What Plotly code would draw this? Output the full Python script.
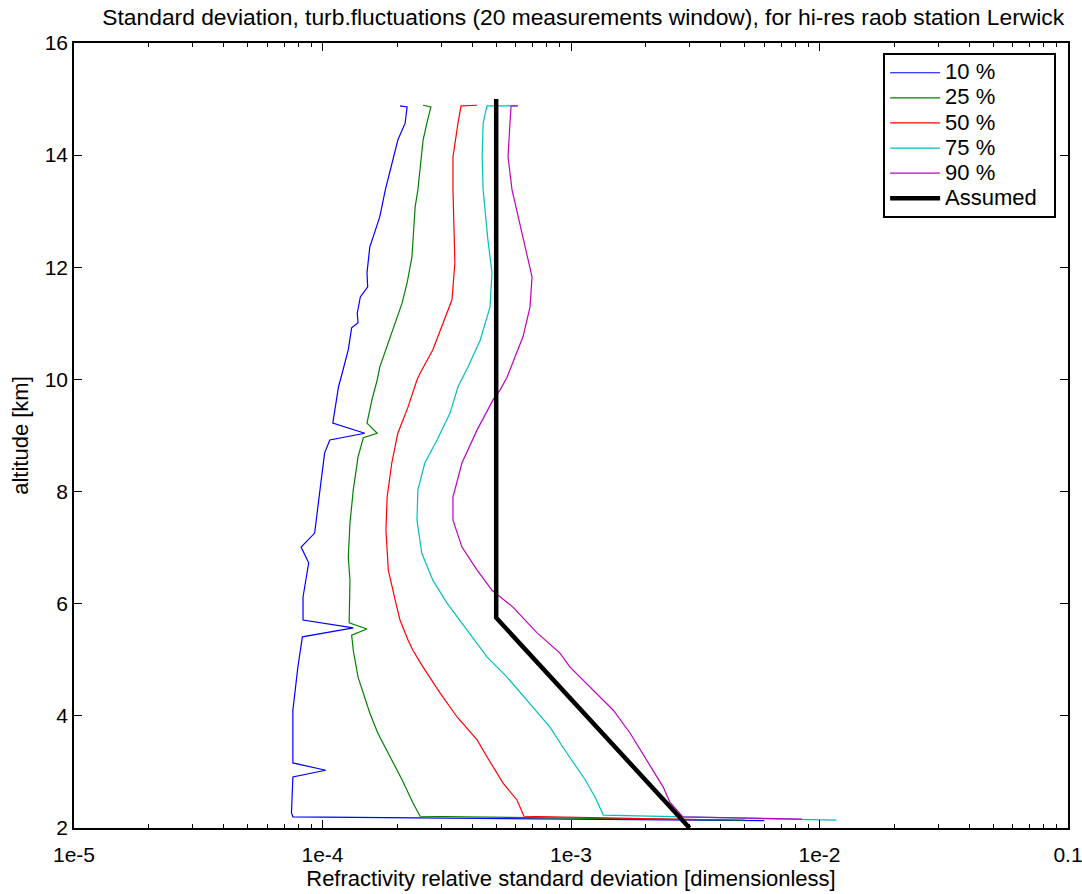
import plotly.graph_objects as go

# ---- data (x: relative std dev, y: altitude km) ----
p10_x = [2.05e-4, 2.19e-4, 2.15e-4, 2.01e-4, 1.79e-4, 1.70e-4, 1.55e-4, 1.51e-4, 1.52e-4, 1.42e-4,
         1.38e-4, 1.39e-4, 1.31e-4, 1.27e-4, 1.20e-4, 1.18e-4, 1.16e-4, 1.10e-4, 1.48e-4, 1.07e-4,
         1.02e-4, 9.8e-5, 9.3e-5, 8.2e-5, 8.8e-5, 8.35e-5, 8.35e-5, 1.33e-4, 8.3e-5, 7.96e-5,
         7.6e-5, 7.6e-5, 1.03e-4, 7.6e-5, 7.5e-5, 7.6e-5, 6.0e-3]
p10_y = [14.88, 14.86, 14.57, 14.27, 13.38, 12.90, 12.36, 11.90, 11.65, 11.47,
         11.18, 11.01, 10.92, 10.53, 10.11, 9.99, 9.87, 9.22, 9.04, 8.92,
         8.69, 8.08, 7.26, 7.01, 6.73, 6.12, 5.71, 5.57, 5.41, 4.87,
         4.10, 3.16, 3.03, 2.91, 2.27, 2.20, 2.13]

p25_x = [2.54e-4, 2.73e-4, 2.63e-4, 2.54e-4, 2.42e-4, 2.36e-4, 2.29e-4, 2.19e-4, 2.09e-4, 1.96e-4,
         1.84e-4, 1.70e-4, 1.66e-4, 1.58e-4, 1.51e-4, 1.66e-4, 1.46e-4, 1.39e-4, 1.33e-4, 1.29e-4,
         1.27e-4, 1.29e-4, 1.28e-4, 1.51e-4, 1.31e-4, 1.33e-4, 1.39e-4, 1.55e-4, 1.67e-4, 1.87e-4,
         2.09e-4, 2.31e-4, 2.47e-4, 5.0e-3]
p25_y = [14.89, 14.86, 14.57, 14.27, 13.38, 13.08, 12.18, 11.72, 11.36, 11.01,
         10.65, 10.22, 9.99, 9.63, 9.22, 9.04, 8.96, 8.62, 8.03, 7.44,
         6.83, 6.42, 5.66, 5.55, 5.44, 5.17, 4.69, 4.05, 3.69, 3.27,
         2.86, 2.45, 2.21, 2.14]

p50_x = [4.19e-4, 3.61e-4, 3.51e-4, 3.35e-4, 3.35e-4, 3.38e-4, 3.41e-4, 3.32e-4, 3.05e-4, 2.78e-4,
         2.47e-4, 2.40e-4, 2.21e-4, 2.01e-4, 1.90e-4, 1.82e-4, 1.80e-4, 1.84e-4, 1.96e-4, 2.05e-4,
         2.21e-4, 2.31e-4, 2.54e-4, 2.97e-4, 3.48e-4, 4.19e-4, 4.59e-4, 5.33e-4, 6.06e-4, 6.47e-4,
         3.2e-3]
p50_y = [14.89, 14.88, 14.57, 13.97, 13.38, 12.49, 12.08, 11.42, 11.01, 10.53,
         10.11, 9.99, 9.51, 9.04, 8.51, 7.90, 7.31, 6.60, 6.07, 5.71,
         5.35, 5.17, 4.87, 4.41, 3.98, 3.57, 3.27, 2.80, 2.50, 2.21,
         2.15]

p75_x = [6.06e-4, 4.59e-4, 4.43e-4, 4.39e-4, 4.43e-4, 4.63e-4, 4.81e-4, 4.72e-4, 4.31e-4, 3.85e-4,
         3.51e-4, 3.26e-4, 2.89e-4, 2.58e-4, 2.42e-4, 2.40e-4, 2.51e-4, 2.78e-4, 3.17e-4, 4.0e-4,
         4.59e-4, 5.53e-4, 6.65e-4, 8.23e-4, 9.28e-4, 1.14e-3, 1.25e-3, 1.35e-3, 1.17e-2]
p75_y = [14.88, 14.88, 14.57, 13.97, 13.38, 12.49, 11.90, 11.29, 10.70, 10.22,
         9.87, 9.40, 8.92, 8.51, 8.03, 7.49, 6.90, 6.42, 6.01, 5.41,
         5.05, 4.69, 4.28, 3.80, 3.44, 2.86, 2.55, 2.23, 2.14]

p90_x = [6.12e-4, 5.74e-4, 5.68e-4, 5.58e-4, 5.79e-4, 6.23e-4, 6.71e-4, 6.97e-4, 6.84e-4, 6.41e-4,
         5.95e-4, 5.53e-4, 5.18e-4, 4.85e-4, 4.19e-4, 3.64e-4, 3.35e-4, 3.35e-4, 3.64e-4, 4.19e-4,
         4.81e-4, 5.84e-4, 7.30e-4, 9.03e-4, 9.91e-4, 1.23e-3, 1.48e-3, 1.73e-3, 2.02e-3, 2.35e-3,
         2.50e-3, 2.82e-3, 8.5e-3]
p90_y = [14.88, 14.88, 14.57, 13.97, 13.38, 12.79, 12.18, 11.83, 11.29, 10.76,
         10.40, 10.04, 9.81, 9.63, 9.10, 8.51, 7.90, 7.49, 7.01, 6.60,
         6.24, 5.94, 5.48, 5.12, 4.87, 4.46, 4.10, 3.69, 3.21, 2.73,
         2.46, 2.20, 2.16]

assumed_x = [5e-4, 5e-4, 3e-3]
assumed_y = [15.0, 5.75, 2.0]

series = [
    ("10 %", p10_x, p10_y, "#0000FF", 1.2),
    ("25 %", p25_x, p25_y, "#008000", 1.2),
    ("50 %", p50_x, p50_y, "#FF0000", 1.2),
    ("75 %", p75_x, p75_y, "#00BFBF", 1.2),
    ("90 %", p90_x, p90_y, "#BF00BF", 1.2),
    ("Assumed", assumed_x, assumed_y, "#000000", 4.5),
]

x_tickvals = [1e-5, 1e-4, 1e-3, 1e-2, 1e-1]
x_ticktext = ["1e-5", "1e-4", "1e-3", "1e-2", "0.1"]

fig = go.Figure()
for name, xs, ys, color, w in series:
    fig.add_trace(go.Scatter(x=xs, y=ys, mode="lines",
                             name="<span style='font-size:22px'>" + name + "&nbsp;&nbsp;</span>",
                             line=dict(color=color, width=w)))

font_family = "Liberation Sans, Arial, Helvetica, sans-serif"

fig.update_layout(
    width=1082, height=894,
    paper_bgcolor="white", plot_bgcolor="white",
    margin=dict(l=74, r=14, t=43, b=66, autoexpand=False),
    font=dict(family=font_family, color="black", size=18),
    title=dict(text="Standard deviation, turb.fluctuations (20 measurements window), for hi-res raob station Lerwick",
               x=0.539, xanchor="center", y=0.981, yanchor="middle",
               font=dict(size=22.8, family=font_family, color="black")),
    showlegend=True,
    legend=dict(x=0.814, y=0.987, xanchor="left", yanchor="top",
                bgcolor="white", bordercolor="black", borderwidth=2,
                font=dict(size=17, family=font_family, color="black"),
                itemwidth=50, tracegroupgap=0),
)

fig.update_xaxes(
    type="log", range=[-5, -1], automargin=False,
    tickvals=x_tickvals, ticktext=x_ticktext, ticklabeloverflow="allow",
    ticks="inside", ticklen=8, tickwidth=1, tickcolor="black",
    minor=dict(ticks="inside", ticklen=4, tickcolor="black", dtick="D1", showgrid=False),
    showline=True, linecolor="black", linewidth=1.5, mirror="allticks",
    showgrid=False, zeroline=False,
    tickfont=dict(size=21), ticklabelstandoff=7,
    title=dict(text="Refractivity relative standard deviation [dimensionless]", font=dict(size=22), standoff=4),
)
fig.update_yaxes(
    range=[2, 16], tickvals=[2, 4, 6, 8, 10, 12, 14, 16], automargin=False,
    ticks="inside", ticklen=8, tickwidth=1, tickcolor="black",
    showline=True, linecolor="black", linewidth=1.5, mirror="allticks",
    showgrid=False, zeroline=False,
    tickfont=dict(size=21),
    title=dict(text="altitude [km]", font=dict(size=22), standoff=10),
)

fig.write_html("out.html")
